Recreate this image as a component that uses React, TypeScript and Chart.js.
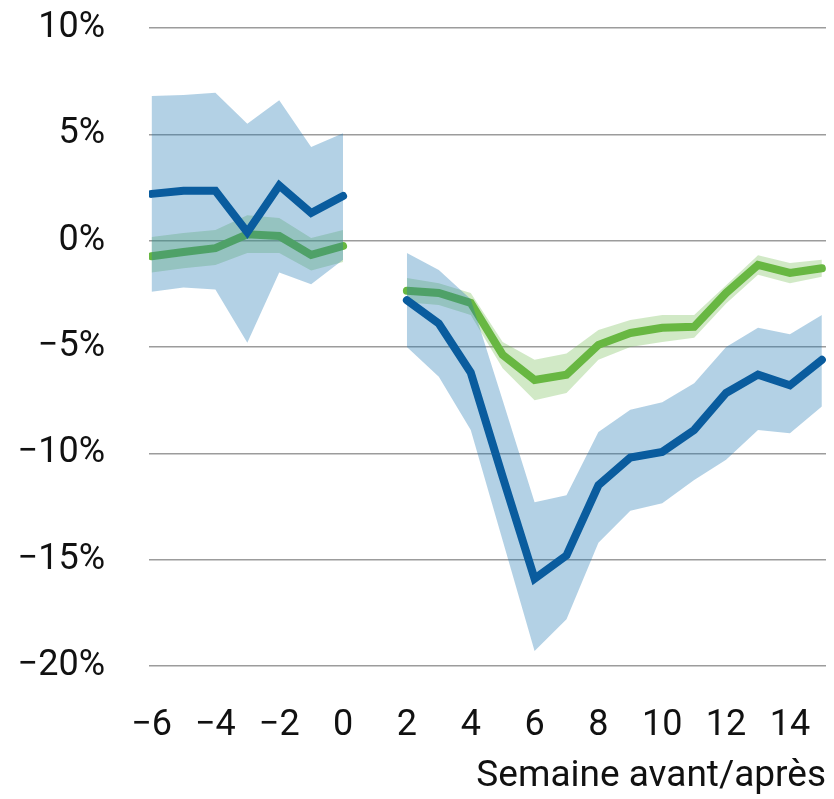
import React, { useEffect, useRef } from "react";
import { Chart, registerables } from "chart.js";

Chart.register(...registerables);

const weeksBefore = [-6, -5, -4, -3, -2, -1, 0];
const weeksAfter = [2, 3, 4, 5, 6, 7, 8, 9, 10, 11, 12, 13, 14, 15];
const xTicks = [-6, -4, -2, 0, 2, 4, 6, 8, 10, 12, 14];
const yTicks = [10, 5, 0, -5, -10, -15, -20];

const blueBefore = [2.2, 2.35, 2.35, 0.4, 2.6, 1.3, 2.1];
const blueUpperBefore = [6.8, 6.85, 6.95, 5.5, 6.6, 4.4, 5.05];
const blueLowerBefore = [-2.4, -2.2, -2.3, -4.8, -1.5, -2.05, -0.9];
const greenBefore = [-0.73, -0.53, -0.35, 0.3, 0.22, -0.67, -0.25];
const greenUpperBefore = [0.17, 0.36, 0.5, 1.2, 1.07, 0.13, 0.5];
const greenLowerBefore = [-1.5, -1.3, -1.14, -0.58, -0.58, -1.4, -1.0];

const blueAfter = [-2.8, -3.9, -6.2, -11.1, -15.9, -14.8, -11.5, -10.2, -9.93, -8.9, -7.16, -6.3, -6.8, -5.6];
const blueUpperAfter = [-0.58, -1.38, -2.75, -7.5, -12.3, -11.97, -9.0, -7.95, -7.6, -6.7, -5.0, -4.1, -4.4, -3.5];
const blueLowerAfter = [-5.0, -6.4, -8.9, -14.1, -19.3, -17.8, -14.2, -12.7, -12.35, -11.25, -10.3, -8.9, -9.05, -7.8];
const greenAfter = [-2.35, -2.46, -2.93, -5.37, -6.55, -6.3, -4.9, -4.34, -4.1, -4.05, -2.46, -1.14, -1.52, -1.3];
const greenUpperAfter = [-1.75, -2.0, -2.46, -4.77, -5.6, -5.3, -4.2, -3.73, -3.5, -3.5, -2.1, -0.68, -1.05, -0.9];
const greenLowerAfter = [-2.9, -3.02, -3.5, -6.0, -7.5, -7.16, -5.6, -5.0, -4.76, -4.57, -2.96, -1.6, -2.0, -1.7];

const xTitle = "Semaine avant/après";

const FONT = "Roboto, 'Liberation Sans', Arial, sans-serif";
const BLUE = "rgb(10, 92, 158)";
const GREEN = "rgb(104, 183, 66)";
const BLUE_BAND = "rgba(31, 119, 180, 0.34)";
const GREEN_BAND = "rgba(104, 183, 66, 0.3)";

function series(before: number[], after: number[]) {
  const pts: { x: number; y: number | null }[] = [];
  weeksBefore.forEach((w, i) => pts.push({ x: w, y: before[i] }));
  pts.push({ x: 1, y: null });
  weeksAfter.forEach((w, i) => pts.push({ x: w, y: after[i] }));
  return pts;
}

const fmt = (v: number) => (v < 0 ? "\u2212" : "") + Math.abs(v);

export default function App() {
  const ref = useRef<HTMLCanvasElement | null>(null);
  useEffect(() => {
    if (!ref.current) return;
    const band = (d: { x: number; y: number | null }[], bg: string | undefined, fill: any) => ({
      data: d,
      borderWidth: 0,
      borderColor: "rgba(0,0,0,0)",
      backgroundColor: bg,
      pointRadius: 0,
      fill,
      spanGaps: false,
    });
    const line = (d: { x: number; y: number | null }[], color: string) => ({
      data: d,
      borderColor: color,
      borderWidth: 8,
      borderCapStyle: "round",
      pointRadius: 0,
      fill: false,
      spanGaps: false,
    });
    const chart = new Chart(ref.current, {
      type: "line",
      data: {
        datasets: [
          line(series(blueBefore, blueAfter), BLUE),
          band(series(blueUpperBefore, blueUpperAfter), BLUE_BAND, "+1"),
          band(series(blueLowerBefore, blueLowerAfter), undefined, false),
          line(series(greenBefore, greenAfter), GREEN),
          band(series(greenUpperBefore, greenUpperAfter), GREEN_BAND, "+1"),
          band(series(greenLowerBefore, greenLowerAfter), undefined, false),
        ] as any,
      },
      options: {
        animation: false,
        responsive: true,
        maintainAspectRatio: false,
        layout: { padding: 0 },
        plugins: { legend: { display: false }, tooltip: { enabled: false } },
        scales: {
          x: {
            type: "linear",
            min: -6.08,
            max: 15.13,
            afterBuildTicks: (s: any) => {
              s.ticks = xTicks.map((v) => ({ value: v }));
            },
            afterFit: (s: any) => {
              s.height = 133;
              s.paddingLeft = 0;
              s.paddingRight = 0;
            },
            grid: { display: false, drawTicks: false },
            border: { display: false },
            ticks: {
              padding: 38,
              color: "#111",
              font: { family: FONT, size: 36 },
              callback: (v: any) => fmt(Number(v)),
              maxRotation: 0,
              autoSkip: false,
            },
            title: {
              display: true,
              text: xTitle,
              align: "end",
              color: "#111",
              font: { family: FONT, size: 37 },
              padding: { top: 0, bottom: 0 },
            },
          },
          y: {
            min: -20,
            max: 10,
            afterBuildTicks: (s: any) => {
              s.ticks = yTicks.map((v) => ({ value: v }));
            },
            afterFit: (s: any) => {
              s.width = 141;
              s.paddingTop = 20;
              s.paddingBottom = 0;
            },
            grid: { color: "#9c9c9c", lineWidth: 1.5, drawTicks: false },
            border: { display: false },
            ticks: {
              padding: 44,
              color: "#111",
              font: { family: FONT, size: 36 },
              callback: (v: any) => fmt(Number(v)) + "%",
            },
          },
        },
      },
    });
    return () => chart.destroy();
  }, []);
  return (
    <div style={{ width: "100%", height: 791, position: "relative" }}>
      <canvas ref={ref} />
    </div>
  );
}
